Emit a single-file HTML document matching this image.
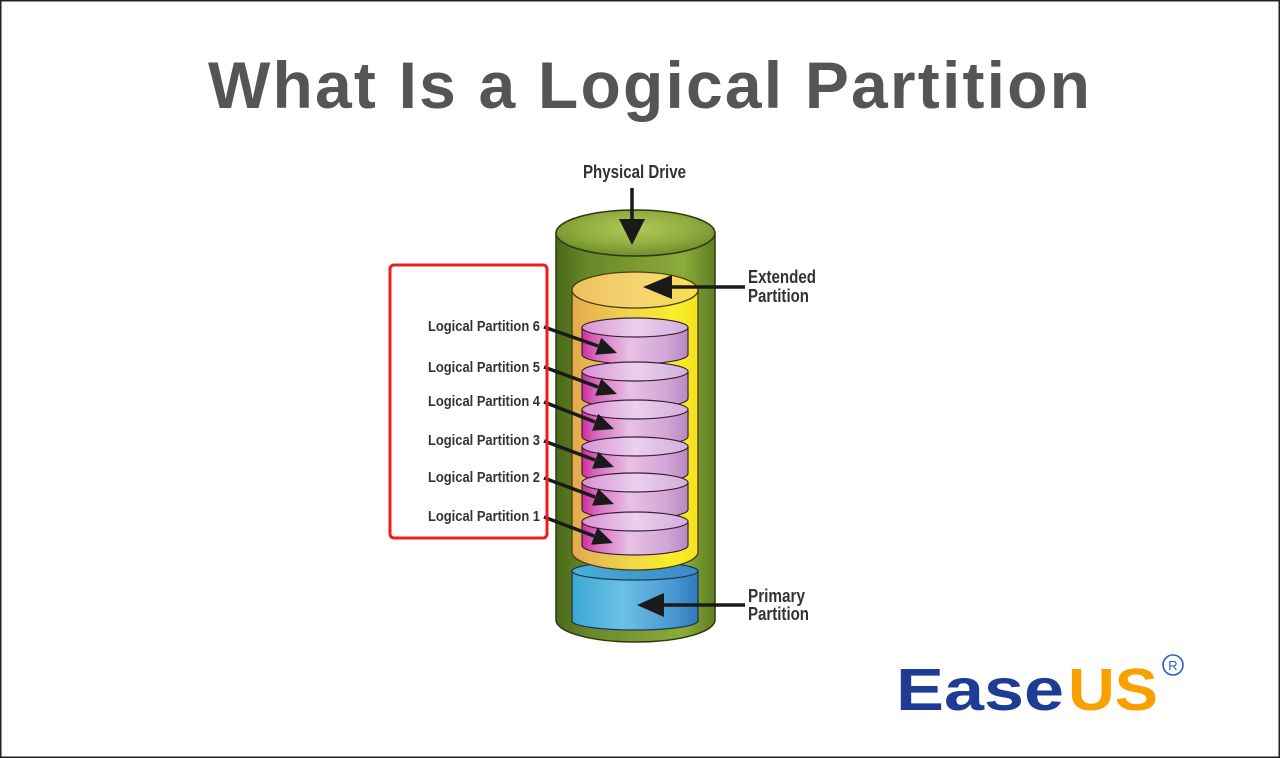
<!DOCTYPE html>
<html><head><meta charset="utf-8"><style>
html,body{margin:0;padding:0;background:#fff;}
svg{display:block;}
</style></head><body>
<svg width="1280" height="758" viewBox="0 0 1280 758" xmlns="http://www.w3.org/2000/svg">
<defs>
<linearGradient id="gSide" x1="0" x2="1" y1="0" y2="0">
<stop offset="0" stop-color="#4a6818"/><stop offset="0.2" stop-color="#68882a"/><stop offset="0.55" stop-color="#7e9c34"/><stop offset="0.8" stop-color="#8cab3c"/><stop offset="1" stop-color="#5e7e22"/>
</linearGradient>
<radialGradient id="gTop" cx="0.5" cy="0.4" r="0.6">
<stop offset="0" stop-color="#b0c858"/><stop offset="0.6" stop-color="#90ac40"/><stop offset="1" stop-color="#6e8c2c"/>
</radialGradient>
<linearGradient id="ySide" x1="0" x2="1"><stop offset="0" stop-color="#e2a84e"/><stop offset="0.4" stop-color="#f0d050"/><stop offset="0.8" stop-color="#f8ee2a"/><stop offset="1" stop-color="#f4e020"/></linearGradient>
<linearGradient id="yTop" x1="0" x2="1"><stop offset="0" stop-color="#eec060"/><stop offset="0.5" stop-color="#f6d470"/><stop offset="1" stop-color="#f8e050"/></linearGradient>
<linearGradient id="bSide" x1="0" x2="1"><stop offset="0" stop-color="#3aa8d4"/><stop offset="0.4" stop-color="#6cc0e6"/><stop offset="0.8" stop-color="#4a98d0"/><stop offset="1" stop-color="#2f78bc"/></linearGradient>
<linearGradient id="bTop" x1="0" x2="1"><stop offset="0" stop-color="#48b0d8"/><stop offset="1" stop-color="#3a88c8"/></linearGradient>
<linearGradient id="pSide" x1="0" x2="1"><stop offset="0" stop-color="#cc2ea0"/><stop offset="0.15" stop-color="#d870c0"/><stop offset="0.45" stop-color="#e8c0e6"/><stop offset="0.8" stop-color="#d2a6d6"/><stop offset="1" stop-color="#b888c2"/></linearGradient>
<linearGradient id="pTop" x1="0" x2="1"><stop offset="0" stop-color="#d890d4"/><stop offset="0.5" stop-color="#ecd0ee"/><stop offset="1" stop-color="#d2aedc"/></linearGradient>
</defs>

<rect x="0.75" y="0.75" width="1278.5" height="756.5" fill="#fff" stroke="#222" stroke-width="1.5"/>

<text x="208" y="108" font-family="Liberation Sans, sans-serif" font-weight="bold" font-size="66" fill="#555555" textLength="882" lengthAdjust="spacing">What Is a Logical Partition</text>

<!-- green cylinder -->
<path d="M556,233 L556,620 A79.5,22 0 0 0 715,620 L715,233 Z" fill="url(#gSide)" stroke="#2c3a10" stroke-width="1.5"/>
<ellipse cx="635.5" cy="233" rx="79.5" ry="23" fill="url(#gTop)" stroke="#2c3a10" stroke-width="1.5"/>

<!-- blue primary -->
<path d="M572,571 L572,621 A63,9 0 0 0 698,621 L698,571 Z" fill="url(#bSide)" stroke="#1c3a50" stroke-width="1.3"/>
<ellipse cx="635" cy="571" rx="63" ry="9" fill="url(#bTop)" stroke="#1c3a50" stroke-width="1.3"/>

<!-- yellow extended -->
<path d="M572,290 L572,552 A63,18 0 0 0 698,552 L698,290 Z" fill="url(#ySide)" stroke="#4a4010" stroke-width="1.3"/>
<ellipse cx="635" cy="290" rx="63" ry="18" fill="url(#yTop)" stroke="#4a4010" stroke-width="1.3"/>

<!-- pink disks -->
<g stroke="#3a2034" stroke-width="1.2">
<path d="M582,327.5 L582,354.5 A53,9.5 0 0 0 688,354.5 L688,327.5 Z" fill="url(#pSide)"/>
<ellipse cx="635" cy="327.5" rx="53" ry="9.5" fill="url(#pTop)"/>
<path d="M582,371.5 L582,398.5 A53,9.5 0 0 0 688,398.5 L688,371.5 Z" fill="url(#pSide)"/>
<ellipse cx="635" cy="371.5" rx="53" ry="9.5" fill="url(#pTop)"/>
<path d="M582,409.5 L582,436.5 A53,9.5 0 0 0 688,436.5 L688,409.5 Z" fill="url(#pSide)"/>
<ellipse cx="635" cy="409.5" rx="53" ry="9.5" fill="url(#pTop)"/>
<path d="M582,446.5 L582,473.5 A53,9.5 0 0 0 688,473.5 L688,446.5 Z" fill="url(#pSide)"/>
<ellipse cx="635" cy="446.5" rx="53" ry="9.5" fill="url(#pTop)"/>
<path d="M582,482.5 L582,509.5 A53,9.5 0 0 0 688,509.5 L688,482.5 Z" fill="url(#pSide)"/>
<ellipse cx="635" cy="482.5" rx="53" ry="9.5" fill="url(#pTop)"/>
<path d="M582,521.5 L582,545.5 A53,9.5 0 0 0 688,545.5 L688,521.5 Z" fill="url(#pSide)"/>
<ellipse cx="635" cy="521.5" rx="53" ry="9.5" fill="url(#pTop)"/>
</g>

<!-- arrows -->
<g stroke="#1a1a1a" stroke-width="3.5" fill="none">
<line x1="632" y1="188" x2="632" y2="222"/>
<line x1="745" y1="287" x2="668" y2="287"/>
<line x1="745" y1="605" x2="660" y2="605"/>
<line x1="544" y1="327" x2="598" y2="346"/>
<line x1="544" y1="367" x2="598" y2="387"/>
<line x1="544" y1="402" x2="595" y2="422"/>
<line x1="544" y1="441" x2="595" y2="460"/>
<line x1="544" y1="478" x2="595" y2="497"/>
<line x1="544" y1="517" x2="594" y2="536"/>
</g>
<g fill="#1a1a1a">
<polygon points="619,219 645,219 632,245"/>
<polygon points="643,287 672,275 672,299"/>
<polygon points="637,605 664,593 664,617"/>
<polygon points="617,353 595.1,354.7 601.3,337.7"/>
<polygon points="617,394 595.1,395.7 601.3,378.7"/>
<polygon points="614,429 592.1,430.7 598.3,413.7"/>
<polygon points="614,467 592.1,468.7 598.3,451.7"/>
<polygon points="614,504 592.1,505.7 598.3,488.7"/>
<polygon points="613,543 591.1,544.7 597.3,527.7"/>
</g>

<!-- labels -->
<g font-family="Liberation Sans, sans-serif" font-weight="bold" fill="#333" lengthAdjust="spacingAndGlyphs">
<text x="583" y="178" font-size="18" textLength="103" lengthAdjust="spacingAndGlyphs">Physical Drive</text>
<text x="748" y="283" font-size="18" textLength="68" lengthAdjust="spacingAndGlyphs">Extended</text>
<text x="748" y="302" font-size="18" textLength="61" lengthAdjust="spacingAndGlyphs">Partition</text>
<text x="748" y="602" font-size="18" textLength="57" lengthAdjust="spacingAndGlyphs">Primary</text>
<text x="748" y="620" font-size="18" textLength="61" lengthAdjust="spacingAndGlyphs">Partition</text>
<text x="428" y="331" font-size="15" textLength="112" lengthAdjust="spacingAndGlyphs">Logical Partition 6</text>
<text x="428" y="372" font-size="15" textLength="112" lengthAdjust="spacingAndGlyphs">Logical Partition 5</text>
<text x="428" y="406" font-size="15" textLength="112" lengthAdjust="spacingAndGlyphs">Logical Partition 4</text>
<text x="428" y="445" font-size="15" textLength="112" lengthAdjust="spacingAndGlyphs">Logical Partition 3</text>
<text x="428" y="482" font-size="15" textLength="112" lengthAdjust="spacingAndGlyphs">Logical Partition 2</text>
<text x="428" y="521" font-size="15" textLength="112" lengthAdjust="spacingAndGlyphs">Logical Partition 1</text>
</g>

<!-- red box -->
<rect x="390" y="265" width="157" height="273" rx="4" fill="none" stroke="#ee1c1c" stroke-width="3"/>

<!-- EaseUS logo -->
<text x="896" y="710" font-family="Liberation Sans, sans-serif" font-weight="bold" font-size="59" fill="#1e3c96" textLength="168" lengthAdjust="spacingAndGlyphs">Ease</text>
<text x="1068" y="710" font-family="Liberation Sans, sans-serif" font-weight="bold" font-size="59" fill="#f7a000" textLength="90" lengthAdjust="spacingAndGlyphs">US</text>
<circle cx="1173" cy="665" r="10" fill="none" stroke="#2a5cc0" stroke-width="1.6"/>
<text x="1173" y="670" text-anchor="middle" font-family="Liberation Sans, sans-serif" font-size="13" fill="#2a5cc0">R</text>
</svg>
</body></html>
